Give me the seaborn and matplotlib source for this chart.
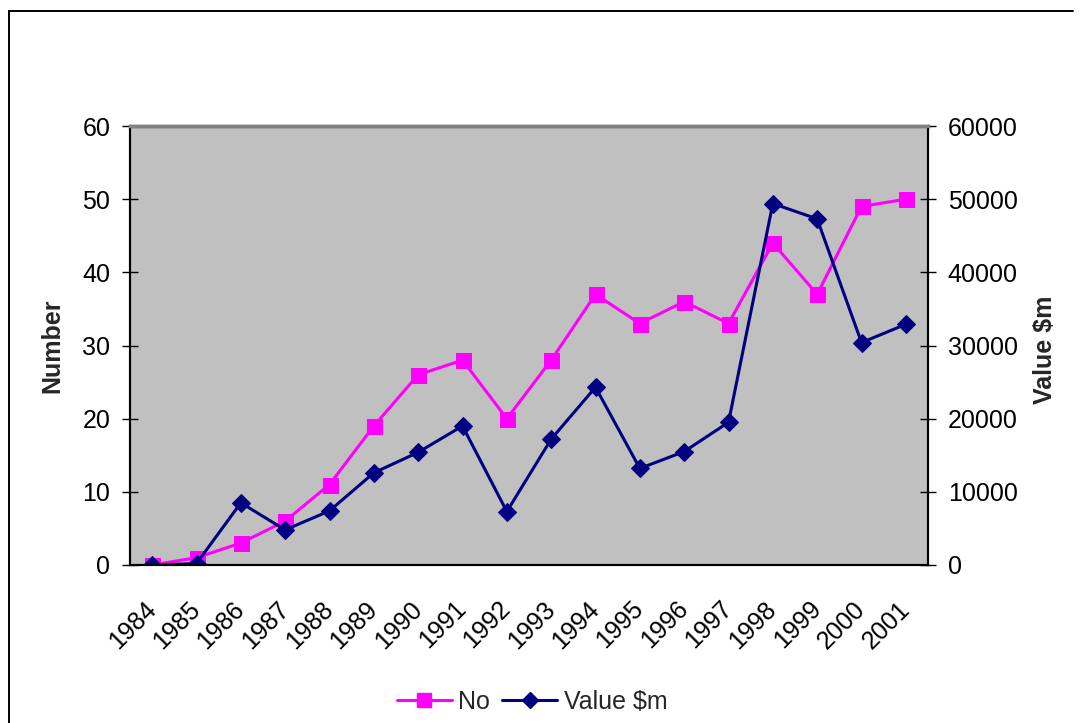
import numpy as np
import pandas as pd
import matplotlib
matplotlib.use("Agg")
import matplotlib.pyplot as plt
from matplotlib.lines import Line2D
from matplotlib.ticker import FixedLocator
import seaborn as sns

years = ["1984", "1985", "1986", "1987", "1988", "1989", "1990", "1991", "1992",
         "1993", "1994", "1995", "1996", "1997", "1998", "1999", "2000", "2001"]
number = [0, 1, 3, 6, 11, 19, 26, 28, 20, 28, 37, 33, 36, 33, 44, 37, 49, 50]
value_m = [0, 200, 8500, 4800, 7400, 12600, 15400, 19000, 7300, 17200, 24300,
           13200, 15500, 19500, 49400, 47300, 30400, 32900]

PINK = "#FF00FF"
NAVY = "#000080"
FS = 18

sns.set_theme(style="white")
plt.rcParams["font.family"] = ["Liberation Sans", "DejaVu Sans"]

df = pd.DataFrame({"pos": np.arange(len(years)), "No": number, "Value": value_m})

W, H = 1081, 723
fig = plt.figure(figsize=(W / 100, H / 100), dpi=100)
fig.patch.set_facecolor("white")

# chart-area frame (top and left edges)
fig.lines.append(Line2D([9 / W, 1073 / W], [1 - 10.5 / H, 1 - 10.5 / H],
                        transform=fig.transFigure, color="black", linewidth=1.4))
fig.lines.append(Line2D([9 / W, 9 / W], [0, 1 - 10.5 / H],
                        transform=fig.transFigure, color="black", linewidth=1.4))

ax = fig.add_axes([130 / W, 1 - 565 / H, 798 / W, 439 / H])
ax.set_facecolor("#C0C0C0")
ax2 = ax.twinx()

sns.lineplot(data=df, x="pos", y="No", ax=ax, color=PINK, marker="s", markersize=10.8,
             markeredgecolor=PINK, linewidth=2.2, legend=False)
sns.lineplot(data=df, x="pos", y="Value", ax=ax2, color=NAVY, marker="D", markersize=9,
             markeredgecolor=NAVY, linewidth=2.2, legend=False)

n = len(years)
ax.set_xlim(-0.5, n - 0.5)
ax.set_ylim(0, 60)
ax2.set_ylim(0, 60000)
ax.set_yticks(np.arange(0, 61, 10))
ax2.set_yticks(np.arange(0, 60001, 10000))
ax.set_xticks(np.arange(n))
ax.set_xticklabels(years, rotation=45, ha="right", va="center", rotation_mode="anchor")
ax.xaxis.set_minor_locator(FixedLocator(np.arange(-0.5, n, 1.0)))

ax.tick_params(axis="x", which="major", length=0, pad=29, labelsize=FS, colors="black")
ax.tick_params(axis="x", which="minor", direction="inout", length=11.5, width=1, color="black")
ax.tick_params(axis="y", direction="inout", length=11.5, width=1, color="black",
               labelsize=FS, pad=8.5, labelcolor="black")
ax2.tick_params(axis="y", direction="inout", length=11.5, width=1, color="black",
                labelsize=FS, pad=8.5, labelcolor="black")

ax.set_xlabel("")
ax.set_ylabel("Number", fontsize=FS, fontweight="bold")
ax2.set_ylabel("Value $m", fontsize=FS, fontweight="bold")
ax.yaxis.set_label_coords((64 - 130) / 798, 0.5)
ax2.yaxis.set_label_coords((1033 - 130) / 798, 0.49)

for a in (ax, ax2):
    for side in ("left", "bottom", "right"):
        a.spines[side].set_color("black")
        a.spines[side].set_linewidth(1.5)
    a.spines["top"].set_color("#808080")
    a.spines["top"].set_linewidth(2.5)
    a.grid(False)

handles = [
    Line2D([], [], color=PINK, marker="s", markersize=10, markeredgecolor=PINK, linewidth=2.2),
    Line2D([], [], color=NAVY, marker="D", markersize=8.5, markeredgecolor=NAVY, linewidth=2.2),
]
fig.legend(handles, ["No", "Value $m"], loc="center", bbox_to_anchor=(532 / W, 1 - 702 / H),
           ncol=2, frameon=False, fontsize=FS, handlelength=2.2, handletextpad=0.25,
           columnspacing=0.5, borderpad=0)

fig.savefig("out.png", dpi=100)
